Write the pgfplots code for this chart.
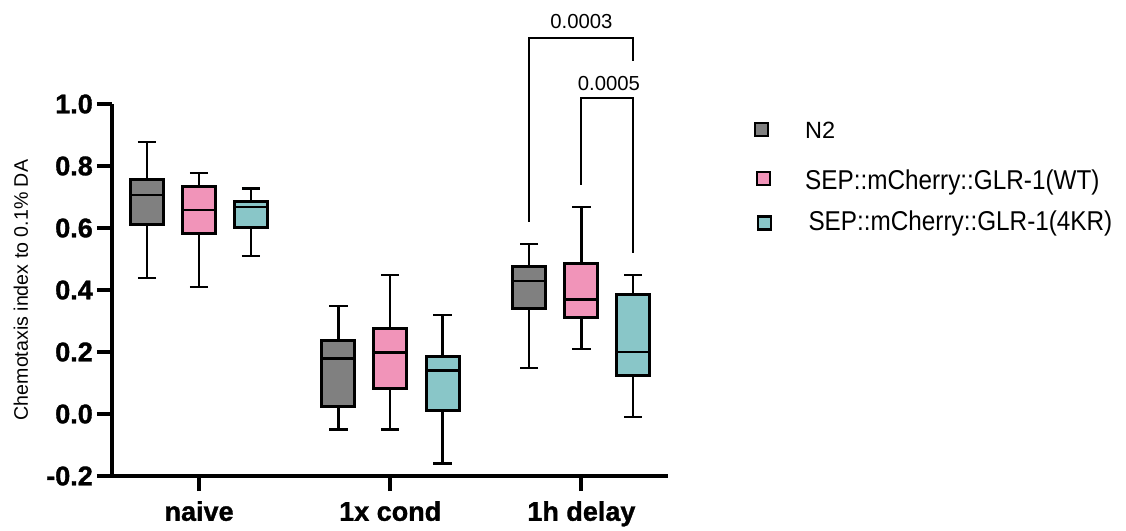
\documentclass[border=0pt]{standalone}
\usepackage{fontspec}
\setmainfont{Liberation Sans}
\newfontfamily\tickfont[FakeBold=1.2]{Liberation Sans Bold}
\usepackage{pgfplots}
\pgfplotsset{compat=1.18}
\usepgfplotslibrary{statistics}
\definecolor{cN}{RGB}{128,128,128}
\definecolor{cWT}{RGB}{241,148,185}
\definecolor{cKR}{RGB}{137,198,200}
\begin{document}
\begin{tikzpicture}[x=1pt,y=1pt]
\path[use as bounding box] (-112,-54) rectangle (1014,476);
\begin{axis}[
  scale only axis, width=556pt, height=372pt,
  xmin=0.5445, xmax=3.453, ymin=-0.2, ymax=1.0,
  axis x line*=bottom, axis y line*=left,
  axis line style={line width=4pt, black},
  tick align=outside, major tick length=15pt,
  tick style={line width=4pt, black},
  xtick={1,2,3}, xticklabels={naive,1x cond,1h delay},
  ytick={-0.2,0,0.2,0.4,0.6,0.8,1.0},
  yticklabels={-0.2,0.0,0.2,0.4,0.6,0.8,1.0},
  ticklabel style={font=\tickfont\fontsize{27}{30}\selectfont},
  yticklabel style={inner sep=4pt},
  xticklabel style={inner sep=10pt},
  ylabel={Chemotaxis index to 0.1\% DA},
  every axis y label/.style={at={(axis description cs:-0.1637,0.5)}, rotate=90, anchor=center, font=\fontsize{19.6}{22}\selectfont},
  clip=false,
  boxplot/draw direction=y,
  boxplot/every box/.style={draw=black, line width=3pt},
  boxplot/every whisker/.style={draw=black, line width=2.5pt},
  boxplot/every median/.style={draw=black, line width=2.5pt},
]
% naive
\addplot[fill=cN, boxplot prepared={draw position=0.728, lower whisker=0.438, lower quartile=0.611, median=0.706, upper quartile=0.756, upper whisker=0.878, box extend=0.173, whisker extend=0.096}] coordinates {};
\addplot[fill=cWT, boxplot prepared={draw position=1.0, lower whisker=0.409, lower quartile=0.581, median=0.658, upper quartile=0.733, upper whisker=0.777, box extend=0.173, whisker extend=0.096}] coordinates {};
\addplot[fill=cKR, boxplot prepared={draw position=1.272, lower whisker=0.510, lower quartile=0.601, median=0.668, upper quartile=0.684, upper whisker=0.727, box extend=0.173, whisker extend=0.096}] coordinates {};
% 1x cond
\addplot[fill=cN, boxplot prepared={draw position=1.729, lower whisker=-0.050, lower quartile=0.024, median=0.179, upper quartile=0.237, upper whisker=0.348, box extend=0.173, whisker extend=0.096}] coordinates {};
\addplot[fill=cWT, boxplot prepared={draw position=2.0, lower whisker=-0.050, lower quartile=0.083, median=0.199, upper quartile=0.275, upper whisker=0.448, box extend=0.173, whisker extend=0.096}] coordinates {};
\addplot[fill=cKR, boxplot prepared={draw position=2.274, lower whisker=-0.159, lower quartile=0.011, median=0.140, upper quartile=0.187, upper whisker=0.319, box extend=0.173, whisker extend=0.096}] coordinates {};
% 1h delay
\addplot[fill=cN, boxplot prepared={draw position=2.727, lower whisker=0.148, lower quartile=0.341, median=0.429, upper quartile=0.475, upper whisker=0.548, box extend=0.173, whisker extend=0.096}] coordinates {};
\addplot[fill=cWT, boxplot prepared={draw position=3.0, lower whisker=0.210, lower quartile=0.312, median=0.370, upper quartile=0.484, upper whisker=0.668, box extend=0.173, whisker extend=0.096}] coordinates {};
\addplot[fill=cKR, boxplot prepared={draw position=3.271, lower whisker=-0.009, lower quartile=0.123, median=0.200, upper quartile=0.386, upper whisker=0.448, box extend=0.173, whisker extend=0.096}] coordinates {};
% significance brackets
\draw[line width=2pt] (axis cs:2.727,0.62) -- (axis cs:2.727,1.212) -- (axis cs:3.271,1.212) -- (axis cs:3.271,1.139);
\node[font=\fontsize{20.3}{24}\selectfont] at (axis cs:3.0,1.267) {0.0003};
\draw[line width=2pt] (axis cs:3.0,0.739) -- (axis cs:3.0,1.020) -- (axis cs:3.271,1.020) -- (axis cs:3.271,0.518);
\node[font=\fontsize{20.3}{24}\selectfont] at (axis cs:3.144,1.0645) {0.0005};
\end{axis}
% legend
\draw[fill=cN, line width=2.5pt] (643.2,339.8) rectangle (656.2,352.8);
\draw[fill=cWT, line width=2.5pt] (644.8,291.2) rectangle (657.8,304.2);
\draw[fill=cKR, line width=2.5pt] (646.2,246.5) rectangle (659.2,259.5);
\node[anchor=base west, inner sep=0pt, font=\fontsize{23.5}{28}\selectfont] at (693,337.7) {N2};
\node[anchor=base west, inner sep=0pt, font=\fontsize{24.3}{28}\selectfont] at (693,286.5) {\scalebox{1}[1.12]{SEP::mCherry::GLR-1(WT)}};
\node[anchor=base west, inner sep=0pt, font=\fontsize{24.3}{28}\selectfont] at (696.3,245) {\scalebox{1}[1.12]{SEP::mCherry::GLR-1(4KR)}};
\end{tikzpicture}
\end{document}
